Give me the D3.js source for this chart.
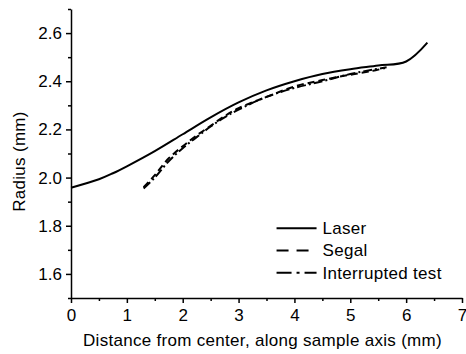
<!DOCTYPE html>
<html>
<head>
<meta charset="utf-8">
<script src="https://cdn.jsdelivr.net/npm/d3@7"></script>
<style>
  body { margin: 0; background: #fff; }
  text { font-family: "Liberation Sans", Arial, sans-serif; fill: #000; }
</style>
</head>
<body>
<div id="wrapper"></div>
<script>
/////////////////////////////////////////////////
// data /////////////////////////////////////////
/////////////////////////////////////////////////

const laserX = [0, 0.5, 0.75, 1.0, 1.5, 2.0, 2.5, 3.0, 3.5, 4.0, 4.5, 5.0, 5.5, 6.0, 6.38];
const laserY = [1.958, 1.993, 2.018, 2.047, 2.11, 2.18, 2.25, 2.312, 2.362, 2.40, 2.43, 2.45, 2.465, 2.482, 2.56];

const segalX = [1.3, 1.5, 1.75, 2.0, 2.25, 2.5, 2.75, 3.0, 3.5, 4.0, 4.5, 5.0, 5.4, 5.62];
const segalY = [1.96, 2.01, 2.08, 2.13, 2.175, 2.215, 2.255, 2.288, 2.335, 2.378, 2.405, 2.427, 2.443, 2.455];

const interX = [1.3, 1.5, 1.75, 2.0, 2.25, 2.5, 2.75, 3.0, 3.5, 4.0, 4.5, 5.0, 5.4, 5.65];
const interY = [1.955, 2.0, 2.068, 2.122, 2.168, 2.212, 2.25, 2.282, 2.335, 2.372, 2.40, 2.43, 2.448, 2.458];

const seriesNames = ["Laser", "Segal", "Interrupted test"];
const xTicks = [0, 1, 2, 3, 4, 5, 6, 7];
const yTicks = [1.6, 1.8, 2.0, 2.2, 2.4, 2.6];

/////////////////////////////////////////////////
// dimensions ///////////////////////////////////
/////////////////////////////////////////////////

const dimensions = {
	width: 466,
	height: 354,
	margin: { top: 9, right: 4, bottom: 56, left: 71 }
};
dimensions.boundedWidth = dimensions.width - dimensions.margin.left - dimensions.margin.right;
dimensions.boundedHeight = dimensions.height - dimensions.margin.top - dimensions.margin.bottom;

const svg = d3.select("#wrapper").append("svg")
	.attr("width", dimensions.width)
	.attr("height", dimensions.height);

const bounds = svg.append("g")
	.attr("transform", `translate(${dimensions.margin.left},${dimensions.margin.top})`);

/////////////////////////////////////////////////
// scales ///////////////////////////////////////
/////////////////////////////////////////////////

const xScale = d3.scaleLinear().domain([0, 7]).range([0, dimensions.boundedWidth]);
const yScale = d3.scaleLinear().domain([1.5, 2.7]).range([dimensions.boundedHeight, 0]);

/////////////////////////////////////////////////
// axes /////////////////////////////////////////
/////////////////////////////////////////////////

const xMinor = d3.range(0.5, 7, 1);
const yMinor = [1.5, 1.7, 1.9, 2.1, 2.3, 2.5, 2.7];

const xAxis = bounds.append("g")
	.attr("transform", `translate(0,${dimensions.boundedHeight})`);
xAxis.append("g")
	.call(d3.axisBottom(xScale).tickValues(xMinor).tickSize(3).tickFormat(""))
	.call(g => g.select(".domain").remove());
xAxis.append("g")
	.call(d3.axisBottom(xScale).tickValues(xTicks).tickSize(5).tickSizeOuter(0).tickPadding(4).tickFormat(d3.format("d")));

const yAxis = bounds.append("g");
yAxis.append("g")
	.call(d3.axisLeft(yScale).tickValues(yMinor).tickSize(3).tickFormat(""))
	.call(g => g.select(".domain").remove());
yAxis.append("g")
	.call(d3.axisLeft(yScale).tickValues(yTicks).tickSize(5).tickSizeOuter(0).tickPadding(4).tickFormat(d3.format(".1f")));

bounds.selectAll(".domain, .tick line").attr("stroke", "#000").attr("stroke-width", 1.5);
bounds.selectAll(".tick text").style("font-size", "17px").attr("fill", "#000");
xAxis.selectAll(".tick text").attr("dy", "0.85em");

bounds.append("text")
	.attr("x", dimensions.boundedWidth / 2 - 4)
	.attr("y", dimensions.boundedHeight + 48)
	.style("text-anchor", "middle")
	.style("font-size", "17px")
	.style("letter-spacing", "0.3px")
	.text("Distance from center, along sample axis (mm)");

bounds.append("text")
	.attr("transform", `translate(-46,${dimensions.boundedHeight / 2 + 8}) rotate(-90)`)
	.style("text-anchor", "middle")
	.style("font-size", "17px")
	.style("letter-spacing", "0.3px")
	.text("Radius (mm)");

/////////////////////////////////////////////////
// lines ////////////////////////////////////////
/////////////////////////////////////////////////

const series = [
	{ name: seriesNames[0], xs: laserX, ys: laserY, dash: null, legendDash: null },
	{ name: seriesNames[1], xs: segalX, ys: segalY, dash: "7,4", legendDash: "12,8" },
	{ name: seriesNames[2], xs: interX, ys: interY, dash: "9,3,2,3", legendDash: "15,5,3,5" }
];

const lineGenerator = d3.line()
	.x(d => xScale(d[0]))
	.y(d => yScale(d[1]))
	.curve(d3.curveCatmullRom.alpha(0.5));

bounds.selectAll(".series")
	.data(series)
	.join("path")
	.attr("class", "series")
	.attr("d", s => lineGenerator(s.xs.map((x, i) => [x, s.ys[i]])))
	.attr("fill", "none")
	.attr("stroke", "#000")
	.attr("stroke-width", 2)
	.attr("stroke-dasharray", s => s.dash);

/////////////////////////////////////////////////
// legend ///////////////////////////////////////
/////////////////////////////////////////////////

const legend = bounds.append("g")
	.attr("transform", `translate(${xScale(3.68)},${yScale(1.79)})`);

const legendItems = legend.selectAll("g")
	.data(series)
	.join("g")
	.attr("transform", (d, i) => `translate(0,${i * 22.3})`);

legendItems.append("line")
	.attr("x1", 0).attr("x2", 40)
	.attr("stroke", "#000")
	.attr("stroke-width", 2)
	.attr("stroke-dasharray", d => d.legendDash);

legendItems.append("text")
	.attr("x", 46)
	.attr("dy", "0.35em")
	.style("font-size", "17px")
	.style("letter-spacing", "0.3px")
	.text(d => d.name);
</script>
</body>
</html>
